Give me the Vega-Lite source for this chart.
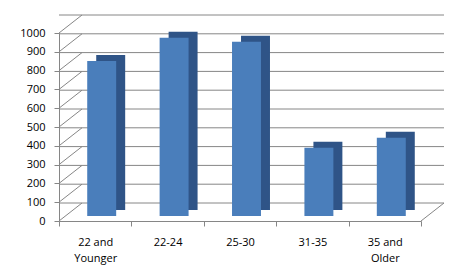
{
  "$schema": "https://vega.github.io/schema/vega-lite/v6.json",
  "width": 362,
  "height": 188,
  "autosize": "none",
  "padding": {"left": 59, "top": 33, "right": 42, "bottom": 55},
  "background": "white",
  "config": {
    "view": {"stroke": null},
    "axis": {"labelFont": "Open Sans", "labelFontSize": 11, "labelColor": "#000000", "domainColor": "#868686", "tickColor": "#868686", "tickSize": 5, "grid": false, "title": null}
  },
  "datasets": {
    "bars": [
      {"age": "22 and Younger", "value": 825},
      {"age": "22-24", "value": 948},
      {"age": "25-30", "value": 927},
      {"age": "31-35", "value": 363},
      {"age": "35 and Older", "value": 416}
    ],
    "ticks": [
      {"v": 0}, {"v": 100}, {"v": 200}, {"v": 300}, {"v": 400}, {"v": 500},
      {"v": 600}, {"v": 700}, {"v": 800}, {"v": 900}, {"v": 1000}
    ]
  },
  "layer": [
    {
      "data": {"name": "ticks"},
      "mark": {"type": "rule", "color": "#868686", "strokeWidth": 1, "xOffset": 23, "yOffset": -18},
      "encoding": {
        "y": {"field": "v", "type": "quantitative", "scale": {"domain": [0, 1000], "nice": false},
          "axis": {"values": [0,100,200,300,400,500,600,700,800,900,1000], "format": "d", "labelPadding": 9, "title": null}}
      }
    },
    {
      "data": {"name": "ticks"},
      "mark": {"type": "rule", "color": "#868686", "strokeWidth": 1, "x2Offset": 23, "y2Offset": -18},
      "encoding": {
        "x": {"datum": "22 and Younger", "type": "nominal", "bandPosition": 0,
          "scale": {"domain": ["22 and Younger", "22-24", "25-30", "31-35", "35 and Older"], "paddingInner": 0, "paddingOuter": 0},
          "axis": {"labelAngle": 0, "tickBand": "extent", "labelPadding": 10, "labelLineHeight": 16, "title": null,
            "labelExpr": "datum.label == '22 and Younger' ? ['22 and', 'Younger'] : datum.label == '35 and Older' ? ['35 and', 'Older'] : datum.label"}},
        "x2": {"datum": "22 and Younger", "bandPosition": 0},
        "y": {"field": "v", "type": "quantitative", "scale": {"domain": [0, 1000], "nice": false},
          "axis": {"values": [0,100,200,300,400,500,600,700,800,900,1000], "format": "d", "labelPadding": 9, "title": null}},
        "y2": {"field": "v"}
      }
    },
    {
      "data": {"name": "ticks"},
      "transform": [{"filter": "datum.v == 0"}],
      "mark": {"type": "rule", "color": "#868686", "strokeWidth": 1, "x2Offset": 23, "y2Offset": -18},
      "encoding": {
        "x": {"datum": "35 and Older", "type": "nominal", "bandPosition": 1,
          "scale": {"domain": ["22 and Younger", "22-24", "25-30", "31-35", "35 and Older"], "paddingInner": 0, "paddingOuter": 0},
          "axis": {"labelAngle": 0, "tickBand": "extent", "labelPadding": 10, "labelLineHeight": 16, "title": null,
            "labelExpr": "datum.label == '22 and Younger' ? ['22 and', 'Younger'] : datum.label == '35 and Older' ? ['35 and', 'Older'] : datum.label"}},
        "x2": {"datum": "35 and Older", "bandPosition": 1},
        "y": {"field": "v", "type": "quantitative", "scale": {"domain": [0, 1000], "nice": false},
          "axis": {"values": [0,100,200,300,400,500,600,700,800,900,1000], "format": "d", "labelPadding": 9, "title": null}},
        "y2": {"field": "v"}
      }
    },
    {
      "data": {"name": "bars"},
      "mark": {"type": "bar", "color": "#2f5487", "xOffset": 15.5, "yOffset": -11, "width": {"band": 0.4}},
      "encoding": {
        "x": {"field": "age", "type": "nominal",
          "scale": {"domain": ["22 and Younger", "22-24", "25-30", "31-35", "35 and Older"], "paddingInner": 0, "paddingOuter": 0},
          "axis": {"labelAngle": 0, "tickBand": "extent", "labelPadding": 10, "labelLineHeight": 16, "title": null,
            "labelExpr": "datum.label == '22 and Younger' ? ['22 and', 'Younger'] : datum.label == '35 and Older' ? ['35 and', 'Older'] : datum.label"}},
        "y": {"field": "value", "type": "quantitative", "scale": {"domain": [0, 1000], "nice": false},
          "axis": {"values": [0,100,200,300,400,500,600,700,800,900,1000], "format": "d", "labelPadding": 9, "title": null}}
      }
    },
    {
      "data": {"name": "bars"},
      "mark": {"type": "bar", "color": "#4a7ebb", "xOffset": 6.5, "yOffset": -5, "width": {"band": 0.4}},
      "encoding": {
        "x": {"field": "age", "type": "nominal",
          "scale": {"domain": ["22 and Younger", "22-24", "25-30", "31-35", "35 and Older"], "paddingInner": 0, "paddingOuter": 0},
          "axis": {"labelAngle": 0, "tickBand": "extent", "labelPadding": 10, "labelLineHeight": 16, "title": null,
            "labelExpr": "datum.label == '22 and Younger' ? ['22 and', 'Younger'] : datum.label == '35 and Older' ? ['35 and', 'Older'] : datum.label"}},
        "y": {"field": "value", "type": "quantitative", "scale": {"domain": [0, 1000], "nice": false},
          "axis": {"values": [0,100,200,300,400,500,600,700,800,900,1000], "format": "d", "labelPadding": 9, "title": null}}
      }
    }
  ]
}
